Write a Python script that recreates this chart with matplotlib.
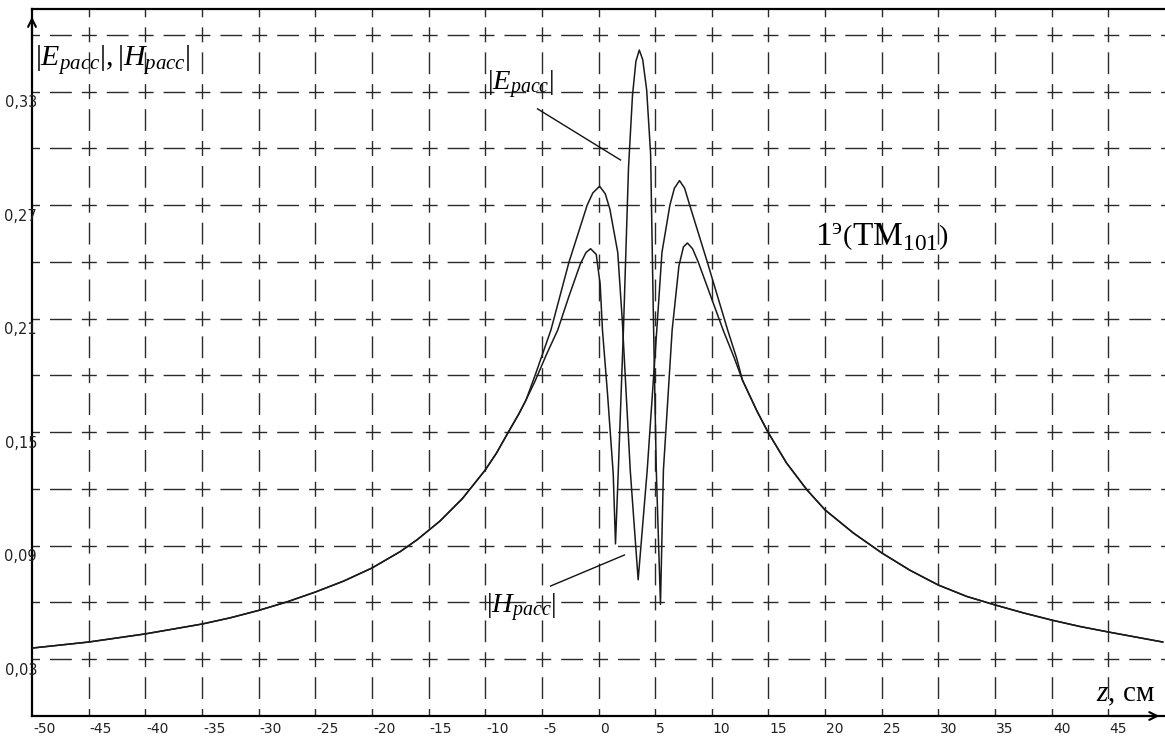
import matplotlib
matplotlib.use("Agg")
import matplotlib.pyplot as plt

# common tails of both curves (z in cm)
z_left = [-50, -45, -40, -35, -32.5, -30, -27.5, -25, -22.5, -20, -17.5, -16, -14, -12, -10, -9, -8, -7, -6.4]
v_left = [0.0359, 0.0391, 0.0434, 0.0486, 0.0519, 0.0558, 0.0603, 0.0655, 0.0713, 0.0782, 0.0869, 0.0932,
          0.103, 0.115, 0.130, 0.139, 0.1496, 0.160, 0.167]
z_right = [12.7, 14, 15, 16.6, 18.4, 20, 22.5, 25, 27.5, 30, 32.5, 35, 37.5, 40, 42.5, 45, 49.8]
v_right = [0.1776, 0.161, 0.1496, 0.1337, 0.1195, 0.1089, 0.0967, 0.0862, 0.0770, 0.0692, 0.0632, 0.0587,
           0.0545, 0.0507, 0.0473, 0.0444, 0.0391]

# |E| middle part (tall central peak)
z_e_mid = [-5.6, -4.6, -3.6, -2.6, -1.6, -1.1, -0.7, -0.2, 0.15, 0.35, 0.8, 1.3, 1.5, 1.75, 2.2, 2.65, 3.0,
           3.3, 3.6, 3.9, 4.25, 4.6, 4.85, 5.1, 5.47, 5.73, 6.5, 7.1, 7.5, 7.85, 8.3, 8.8, 9.9, 11.0, 12.0]
e_mid = [0.177, 0.191, 0.204, 0.222, 0.239, 0.245, 0.247, 0.244, 0.228, 0.204, 0.170, 0.128, 0.091, 0.130,
         0.204, 0.290, 0.328, 0.346, 0.352, 0.347, 0.331, 0.297, 0.209, 0.130, 0.059, 0.130, 0.204, 0.238,
         0.248, 0.250, 0.247, 0.240, 0.222, 0.204, 0.189]

# |H| middle part (dip at the centre)
z_h_mid = [-5.6, -4.2, -2.6, -1.0, -0.5, 0.1, 0.6, 1.0, 1.7, 2.1, 2.8, 3.5, 4.3, 5.2, 5.6, 6.3, 6.7, 7.15,
           7.6, 8.0, 9.6, 11.4, 12.2]
h_mid = [0.180, 0.204, 0.240, 0.270, 0.2765, 0.280, 0.276, 0.268, 0.245, 0.209, 0.130, 0.072, 0.130, 0.209,
         0.245, 0.270, 0.279, 0.283, 0.279, 0.271, 0.240, 0.204, 0.189]

x_grid = list(range(-45, 50, 5))
y_grid = [0.03, 0.06, 0.09, 0.12, 0.15, 0.18, 0.21, 0.24, 0.27, 0.30, 0.33, 0.36]
x_ticks = list(range(-50, 50, 5))
x_labels = [str(v) for v in x_ticks]
y_ticks = [0.03, 0.09, 0.15, 0.21, 0.27, 0.33]
y_labels = ["0,03", "0,09", "0,15", "0,21", "0,27", "0,33"]

plt.rcParams['lines.scale_dashes'] = False
plt.rcParams['mathtext.fontset'] = 'custom'
plt.rcParams['mathtext.rm'] = 'Liberation Serif'
plt.rcParams['mathtext.it'] = 'Liberation Serif:italic'

fig = plt.figure(figsize=(11.65, 7.43), dpi=100)
ax = fig.add_axes([32 / 1165, 27 / 743, 1133 / 1165, 707 / 743])
ax.set_xlim(-50, 50)
ax.set_ylim(0, 0.3737)

dash = (5.4, (10.8, 7.2, 15.7, 7.2))
for xv in x_grid:
    ax.axvline(xv, color='#2a2a2a', lw=1.0, linestyle=dash, zorder=1)
for yv in y_grid:
    ax.axhline(yv, color='#2a2a2a', lw=1.0, linestyle=dash, zorder=1)

ax.plot(z_left + z_e_mid + z_right, v_left + e_mid + v_right, color='#1a1a1a', lw=1.1, zorder=3)
ax.plot(z_left + z_h_mid + z_right, v_left + h_mid + v_right, color='#1a1a1a', lw=1.1, zorder=3)

ax.set_xticks([])
ax.set_yticks([])
ax.spines['right'].set_visible(False)
for s in ['left', 'bottom', 'top']:
    ax.spines[s].set_linewidth(1.6)

ax.annotate('', xy=(0, 0.993), xytext=(0, 0.95), xycoords='axes fraction',
            arrowprops=dict(arrowstyle='->', lw=1.5, color='k', mutation_scale=14), annotation_clip=False)
ax.annotate('', xy=(0.9975, 0), xytext=(0.95, 0), xycoords='axes fraction',
            arrowprops=dict(arrowstyle='->', lw=1.5, color='k', mutation_scale=14), annotation_clip=False)

tick_font = ['Liberation Sans Narrow', 'DejaVu Sans']
for xv, lab in zip(x_ticks, x_labels):
    ax.text(xv + 0.1, -0.0184, lab, transform=ax.get_xaxis_transform(), ha='left', va='center',
            fontsize=10, family=tick_font, color='#222222', clip_on=False)
for yv, lab in zip(y_ticks, y_labels):
    ax.text(0.0045, yv - 0.0018, lab, transform=ax.get_yaxis_transform(), ha='right', va='top',
            fontsize=10.5, family=tick_font, color='#222222', clip_on=False)

# labels
serif = ['Liberation Serif', 'DejaVu Serif']
ax.text(-49.7, 0.347, r'$|E_{расс}|, |H_{расс}|$', ha='left', va='center', fontsize=21.5, family=serif)
ax.text(-9.8, 0.3335, r'$|E_{расс}|$', ha='left', va='center', fontsize=20.5, family=serif)
ax.text(-9.95, 0.0572, r'$|H_{расс}|$', ha='left', va='center', fontsize=20.5, family=serif)
ax.text(19.1, 0.2527, r'$\mathrm{1^{э}\left(TM_{101}\right)}$', ha='left', va='center', fontsize=24, family=serif)
ax.text(43.9, 0.011, r'$z$, см', ha='left', va='center', fontsize=21, family=serif)

ax.plot([-5.38, 1.94], [0.3209, 0.2939], color='#111111', lw=1.0, zorder=4)
ax.plot([-4.23, 2.29], [0.0687, 0.0851], color='#111111', lw=1.0, zorder=4)

fig.savefig('out.png', dpi=100)
